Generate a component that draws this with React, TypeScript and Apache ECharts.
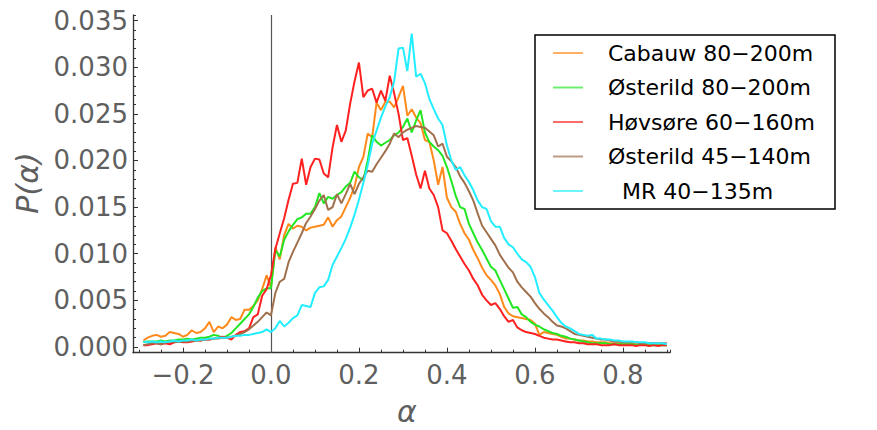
import React, { useEffect, useRef } from "react";
import * as echarts from "echarts";

const alpha = [
  -0.29, -0.28, -0.27, -0.26, -0.25, -0.24, -0.23, -0.22, -0.21, -0.2,
  -0.19, -0.18, -0.17, -0.16, -0.15, -0.14, -0.13, -0.12, -0.11, -0.1,
  -0.09, -0.08, -0.07, -0.06, -0.05, -0.04, -0.03, -0.02, -0.01, 0.0,
  0.01, 0.02, 0.03, 0.04, 0.05, 0.06, 0.07, 0.08, 0.09, 0.1,
  0.11, 0.12, 0.13, 0.14, 0.15, 0.16, 0.17, 0.18, 0.19, 0.2,
  0.21, 0.22, 0.23, 0.24, 0.25, 0.26, 0.27, 0.28, 0.29, 0.3,
  0.31, 0.32, 0.33, 0.34, 0.35, 0.36, 0.37, 0.38, 0.39, 0.4,
  0.41, 0.42, 0.43, 0.44, 0.45, 0.46, 0.47, 0.48, 0.49, 0.5,
  0.51, 0.52, 0.53, 0.54, 0.55, 0.56, 0.57, 0.58, 0.59, 0.6,
  0.61, 0.62, 0.63, 0.64, 0.65, 0.66, 0.67, 0.68, 0.69, 0.7,
  0.71, 0.72, 0.73, 0.74, 0.75, 0.76, 0.77, 0.78, 0.79, 0.8,
  0.81, 0.82, 0.83, 0.84, 0.85, 0.86, 0.87, 0.88, 0.89, 0.9,
];

const cabauw = [
  0.0007, 0.001, 0.0012, 0.0013, 0.0011, 0.0012, 0.0016, 0.0015, 0.0014, 0.0011,
  0.0013, 0.0018, 0.0015, 0.0016, 0.002, 0.0027, 0.0016, 0.0022, 0.002, 0.0024,
  0.0032, 0.0029, 0.003, 0.004, 0.004, 0.0044, 0.005, 0.0062, 0.0077, 0.0064,
  0.0107, 0.0094, 0.012, 0.0132, 0.0127, 0.013, 0.0129, 0.0125, 0.0128, 0.0129,
  0.013, 0.0131, 0.0139, 0.0129, 0.0136, 0.014, 0.015, 0.016, 0.0172, 0.0193,
  0.0204, 0.0229, 0.0225, 0.0262, 0.0254, 0.0263, 0.0263, 0.0257, 0.0268, 0.028,
  0.0248, 0.0255, 0.0246, 0.024, 0.0222, 0.022, 0.02, 0.0174, 0.0193, 0.016,
  0.015, 0.0145, 0.0132, 0.0122, 0.0115, 0.0104, 0.0095, 0.0085, 0.0077, 0.0072,
  0.0066, 0.0057, 0.0043, 0.0036, 0.0033, 0.0032, 0.0031, 0.003, 0.0029, 0.0025,
  0.0013, 0.0016, 0.0015, 0.0014, 0.0013, 0.0011, 0.0009, 0.0009, 0.0008, 0.0007,
  0.0007, 0.0006, 0.0006, 0.0005, 0.0005, 0.0005, 0.0004, 0.0004, 0.0004, 0.0004,
  0.0003, 0.0004, 0.0003, 0.0003, 0.0003, 0.0003, 0.0003, 0.0003, 0.0003, 0.0003,
];

const osterild80 = [
  0.0005, 0.0006, 0.0006, 0.0006, 0.0007, 0.0006, 0.0007, 0.0007, 0.0008, 0.0008,
  0.0009, 0.0008, 0.0009, 0.001, 0.001, 0.0011, 0.0013, 0.0012, 0.001, 0.0012,
  0.0015, 0.002, 0.0025, 0.003, 0.0035, 0.0043, 0.0053, 0.006, 0.0063, 0.0063,
  0.0104, 0.0097, 0.0115, 0.0124, 0.0131, 0.0137, 0.0139, 0.0143, 0.0143, 0.015,
  0.0165, 0.0154, 0.0161, 0.0159, 0.0163, 0.0166, 0.0172, 0.0176, 0.0188, 0.0182,
  0.0179, 0.02, 0.0227, 0.022, 0.0216, 0.0219, 0.0222, 0.0227, 0.023, 0.0236,
  0.0245, 0.023, 0.0243, 0.0254, 0.023, 0.022, 0.0215, 0.0211, 0.0205, 0.0193,
  0.0178, 0.0162, 0.015, 0.0148, 0.0132, 0.0122, 0.0112, 0.0104, 0.0095, 0.0086,
  0.0082, 0.0072, 0.0062, 0.0052, 0.0042, 0.0043, 0.0035, 0.0032, 0.0027, 0.0024,
  0.0022, 0.0019, 0.0017, 0.0015, 0.0014, 0.0012, 0.0011, 0.0009, 0.0008, 0.0007,
  0.0006, 0.0005, 0.0004, 0.0004, 0.0004, 0.0004, 0.0003, 0.0003, 0.0003, 0.0003,
  0.0003, 0.0003, 0.0002, 0.0003, 0.0002, 0.0002, 0.0002, 0.0002, 0.0002, 0.0002,
];

const hovsore = [
  0.0002, 0.0002, 0.0003, 0.0004, 0.0003, 0.0004, 0.0003, 0.0005, 0.0006, 0.0005,
  0.0005, 0.0006, 0.0007, 0.0007, 0.0008, 0.0008, 0.0009, 0.001, 0.0011, 0.001,
  0.0008, 0.0013, 0.0016, 0.0017, 0.002, 0.0032, 0.0035, 0.0055, 0.0062, 0.0077,
  0.0105, 0.0122, 0.0138, 0.0158, 0.0175, 0.0176, 0.0202, 0.0174, 0.0193, 0.0202,
  0.0201, 0.0186, 0.0182, 0.0214, 0.0238, 0.022, 0.0232, 0.0261, 0.0285, 0.0305,
  0.0268, 0.0275, 0.0277, 0.0262, 0.0275, 0.0264, 0.0291, 0.0272, 0.025, 0.0222,
  0.0224, 0.0205, 0.0185, 0.017, 0.0189, 0.017, 0.0163, 0.015, 0.0125, 0.0122,
  0.0114, 0.0105, 0.0097, 0.0089, 0.0082, 0.0073, 0.0066, 0.0056, 0.005, 0.0045,
  0.0047, 0.0041, 0.0033, 0.0027, 0.0029, 0.0021, 0.0018, 0.0016, 0.0015, 0.0014,
  0.0012, 0.001, 0.0009, 0.0008, 0.0008, 0.0007, 0.0006, 0.0005, 0.0005, 0.0004,
  0.0004, 0.0003, 0.0003, 0.0003, 0.0002, 0.0002, 0.0002, 0.0003, 0.0002, 0.0002,
  0.0002, 0.0002, 0.0001, 0.0002, 0.0002, 0.0001, 0.0002, 0.0001, 0.0002, 0.0002,
];

const osterild45 = [
  0.0002, 0.0003, 0.0004, 0.0004, 0.0003, 0.0005, 0.0006, 0.0005, 0.0006, 0.0006,
  0.0006, 0.0007, 0.0007, 0.0007, 0.0008, 0.0008, 0.0009, 0.0009, 0.001, 0.001,
  0.0011, 0.0012, 0.0014, 0.0016, 0.0019, 0.0023, 0.0027, 0.0032, 0.0037, 0.0034,
  0.0058, 0.007, 0.0073, 0.0091, 0.0102, 0.0112, 0.0122, 0.0133, 0.014, 0.0148,
  0.0157, 0.0163, 0.0147, 0.015, 0.0164, 0.0154, 0.0164, 0.0175, 0.0164, 0.0175,
  0.0182, 0.0189, 0.0188, 0.0196, 0.0203, 0.021, 0.0218, 0.0229, 0.0225, 0.023,
  0.0233, 0.0235, 0.0237, 0.0236, 0.0235, 0.0231, 0.0227, 0.0215, 0.0218, 0.0204,
  0.0199, 0.0193, 0.0183, 0.0176, 0.0167, 0.0157, 0.0143, 0.013, 0.0123, 0.0116,
  0.0109, 0.0099, 0.0092, 0.0085, 0.008, 0.007, 0.0064, 0.0059, 0.0054, 0.0047,
  0.0041, 0.0036, 0.0032, 0.0027, 0.0023, 0.0022, 0.002, 0.0017, 0.0014, 0.0013,
  0.0012, 0.0011, 0.001, 0.0009, 0.0008, 0.0008, 0.0007, 0.0006, 0.0006, 0.0005,
  0.0005, 0.0005, 0.0005, 0.0004, 0.0004, 0.0004, 0.0004, 0.0004, 0.0004, 0.0004,
];

const mr = [
  0.0006, 0.0005, 0.0006, 0.0005, 0.0006, 0.0005, 0.0006, 0.0007, 0.0006, 0.0007,
  0.0007, 0.0008, 0.0007, 0.0008, 0.0008, 0.0009, 0.0009, 0.001, 0.001, 0.001,
  0.0011, 0.0012, 0.0012, 0.0013, 0.0013, 0.0014, 0.0015, 0.0016, 0.0019, 0.0016,
  0.002, 0.0028, 0.0022, 0.0026, 0.0031, 0.0034, 0.0045, 0.0044, 0.0043, 0.0058,
  0.0064, 0.0065, 0.0072, 0.0088, 0.0097, 0.0106, 0.0116, 0.0128, 0.0142, 0.0158,
  0.0176, 0.0195, 0.0218, 0.0232, 0.0246, 0.0258, 0.0268, 0.0285, 0.032, 0.0321,
  0.0296, 0.0336, 0.029, 0.0293, 0.0283, 0.0266, 0.0255, 0.0245, 0.0238, 0.0216,
  0.02, 0.019, 0.0193, 0.0184, 0.0177, 0.0168, 0.0157, 0.015, 0.0148, 0.0135,
  0.0129, 0.0129, 0.0117, 0.011, 0.0107, 0.01, 0.0094, 0.0091, 0.0086, 0.0075,
  0.0058, 0.0051, 0.0045, 0.0039, 0.0032, 0.0026, 0.0022, 0.002, 0.0017, 0.0014,
  0.0013, 0.0012, 0.0013, 0.0009, 0.0009, 0.0008, 0.0008, 0.0007, 0.0007, 0.0006,
  0.0006, 0.0006, 0.0005, 0.0005, 0.0005, 0.0004, 0.0004, 0.0004, 0.0004, 0.0003,
];

const seriesNames = [
  "Cabauw 80\u2212200m",
  "\u00d8sterild 80\u2212200m",
  "H\u00f8vs\u00f8re 60\u2212160m",
  "\u00d8sterild 45\u2212140m",
  "MR 40\u2212135m",
];
const seriesValues = [cabauw, osterild80, hovsore, osterild45, mr];
const seriesColors = ["#FF8A1C", "#22E622", "#FF2020", "#A0704C", "#22EEFF"];
const legendColors = ["#FFB266", "#6CF06C", "#FF6B6B", "#BC9C84", "#6CF4FF"];

const FONT = "DejaVu Sans";
const LABEL_COLOR = "#5f5f5f";
const AXIS_COLOR = "#333333";

const X_MIN = -0.3136;
const X_MAX = 0.907;
const Y_MIN = -0.00061;
const Y_MAX = 0.0356;

export default function App() {
  const ref = useRef<HTMLDivElement>(null);

  useEffect(() => {
    if (!ref.current) return;
    const chart = echarts.init(ref.current, undefined, { renderer: "svg" });

    const series: any[] = seriesValues.map((vals, k) => ({
      name: seriesNames[k],
      type: "line",
      xAxisIndex: 0,
      yAxisIndex: 0,
      symbol: "none",
      showSymbol: false,
      smooth: false,
      data: alpha.map((a, i) => [a, vals[i]]),
      lineStyle: { color: seriesColors[k], width: 2 },
      itemStyle: { color: legendColors[k] },
      z: 3 + k,
    }));
    series[0].markLine = {
      silent: true,
      symbol: "none",
      label: { show: false },
      lineStyle: { color: "#555555", width: 1.2, type: "solid" },
      data: [{ xAxis: 0 }],
      z: 1,
    };

    const option: any = {
      animation: false,
      backgroundColor: "#ffffff",
      grid: { left: 133, right: 207, top: 15, bottom: 77.3, containLabel: false },
      xAxis: [
        {
          type: "value",
          min: X_MIN,
          max: X_MAX,
          splitNumber: 6,
          position: "bottom",
          axisLine: { show: true, onZero: false, lineStyle: { color: AXIS_COLOR, width: 1.3 } },
          axisTick: { show: true, inside: true, length: 5, lineStyle: { color: AXIS_COLOR, width: 1 } },
          splitLine: { show: false },
          axisLabel: {
            show: true,
            showMinLabel: false,
            showMaxLabel: false,
            margin: 9,
            color: LABEL_COLOR,
            fontFamily: FONT,
            fontSize: 26,
            formatter: (v: number) => (v < -1e-9 ? "\u2212" : "") + Math.abs(v).toFixed(1),
          },
        },
        {
          type: "value",
          min: X_MIN,
          max: X_MAX,
          splitNumber: 24,
          position: "bottom",
          axisLine: { show: false, onZero: false },
          axisTick: { show: true, inside: true, length: 3, lineStyle: { color: AXIS_COLOR, width: 1 } },
          splitLine: { show: false },
          axisLabel: { show: false },
        },
      ],
      yAxis: [
        {
          type: "value",
          min: Y_MIN,
          max: Y_MAX,
          splitNumber: 7,
          position: "left",
          axisLine: { show: true, onZero: false, lineStyle: { color: AXIS_COLOR, width: 1.3 } },
          axisTick: { show: true, inside: true, length: 5, lineStyle: { color: AXIS_COLOR, width: 1 } },
          splitLine: { show: false },
          axisLabel: {
            show: true,
            showMinLabel: false,
            showMaxLabel: false,
            margin: 5,
            color: LABEL_COLOR,
            fontFamily: FONT,
            fontSize: 26,
            formatter: (v: number) => (Math.abs(v) < 1e-12 ? 0 : v).toFixed(3),
          },
        },
        {
          type: "value",
          min: Y_MIN,
          max: Y_MAX,
          splitNumber: 36,
          position: "left",
          axisLine: { show: false, onZero: false },
          axisTick: { show: true, inside: true, length: 3, lineStyle: { color: AXIS_COLOR, width: 1 } },
          splitLine: { show: false },
          axisLabel: { show: false },
        },
      ],
      legend: {
        show: true,
        orient: "vertical",
        left: 553,
        top: 42,
        padding: 0,
        itemGap: 12.5,
        itemWidth: 30,
        itemHeight: 2,
        icon: "rect",
        data: seriesNames,
        formatter: (name: string) => (name.startsWith("MR") ? "\u00a0\u00a0" + name : name),
        textStyle: {
          color: "#000000",
          fontFamily: FONT,
          fontSize: 22,
          lineHeight: 22,
          padding: [0, 0, 0, 20],
        },
      },
      graphic: [
        {
          type: "rect",
          shape: { x: 535, y: 35, width: 300, height: 174 },
          style: { fill: "none", stroke: "#000000", lineWidth: 1.5 },
          silent: true,
        },
        {
          type: "text",
          x: 27,
          y: 183,
          rotation: Math.PI / 2,
          style: {
            text: "P(\u03b1)",
            font: `italic 30px "${FONT}"`,
            fill: LABEL_COLOR,
            align: "center",
            verticalAlign: "middle",
          },
        },
        {
          type: "text",
          x: 407,
          y: 411,
          style: {
            text: "\u03b1",
            font: `italic 30px "${FONT}"`,
            fill: LABEL_COLOR,
            align: "center",
            verticalAlign: "middle",
          },
        },
      ],
      series,
    };

    chart.setOption(option);
    return () => chart.dispose();
  }, []);

  return (
    <div
      ref={ref}
      style={{ position: "fixed", left: 0, top: 0, width: 877, height: 430, background: "#fff" }}
    />
  );
}
